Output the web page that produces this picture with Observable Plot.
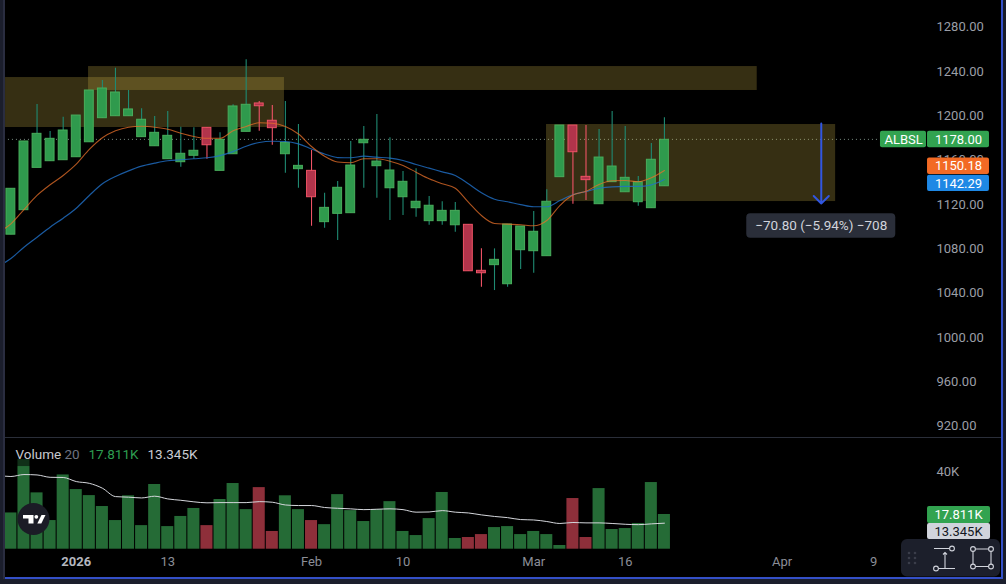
<!DOCTYPE html>
<html>
<head>
<meta charset="utf-8">
<script src="https://cdn.jsdelivr.net/npm/d3@7"></script>
<script src="https://cdn.jsdelivr.net/npm/@observablehq/plot@0.6"></script>
<style>
html,body{margin:0;padding:0;background:#000;width:1006px;height:584px;overflow:hidden}
#app{position:relative;width:1006px;height:584px;font-family:Roboto,sans-serif}
#app svg{display:block}
#vol{border-top:1px solid #2a2e39}
#chrome{position:absolute;left:0;top:0;pointer-events:none}
</style>
</head>
<body>
<div id="app"><div id="price"></div><div id="vol"></div></div>
<script>
// ---- daily candles (index 0 = late Dec 2025) ----
const opens = [1092,1114.1,1152.3,1158.3,1159.2,1161.9,1175.4,1197.1,1198.9,1198.9,1180,1171.8,1160.1,1157.4,1163.2,1188.4,1149.6,1164.6,1184.8,1210.4,1194.8,1164.6,1151.1,1149.6,1103.3,1110.8,1111.4,1174.5,1153.8,1133.9,1125.8,1115.9,1104.2,1104.2,1100.5,1100.9,1059.4,1064.5,1047.3,1078,1077.1,1072.6,1143.9,1190.5,1144.2,1119.5,1139.4,1130.3,1121.3,1115.9,1135.7];
const closes = [1133.4,1176.1,1183,1178.5,1186,1199.5,1222.1,1223.9,1220.3,1205,1195.7,1183.9,1181.2,1165,1167.7,1172.7,1177.6,1207.7,1209.2,1207.9,1188.1,1174.9,1154.1,1125.8,1116.2,1134.3,1154.4,1177.6,1158,1149.9,1139.7,1121.7,1118.1,1113.5,1113.5,1059,1057.2,1069.3,1101.2,1099.4,1094.6,1121.7,1190.5,1166.4,1141.2,1161.6,1153.5,1143.3,1139.4,1159.6,1177.6];
const highs = [1133.4,1176.1,1209.5,1185.1,1198,1199.5,1222.1,1231.1,1242.2,1222.1,1205.6,1198.6,1203.1,1189,1188.4,1188.4,1183.9,1209.2,1249.8,1212.2,1208.6,1212.2,1191.4,1168,1129.4,1140,1176.1,1189.6,1200.4,1179.4,1149,1151.4,1126.4,1121.7,1121,1100.9,1079.2,1079.2,1101.2,1099.4,1112.9,1132.5,1190.5,1190.5,1190.5,1186.9,1203.1,1189.6,1144.5,1174.3,1197.5];
const lows = [1092,1114.1,1152.3,1158.3,1159.2,1161.9,1175.4,1197.1,1198.9,1198.9,1180,1171.8,1160.1,1152.9,1160.1,1160.1,1149.6,1164.6,1184.8,1185.4,1172.7,1147.5,1133.9,1099.6,1097.8,1086.7,1111.4,1133.9,1124.9,1104.8,1109.3,1107.8,1100.5,1100.5,1094.2,1059,1044.6,1041.6,1044.6,1060.6,1057.2,1072.6,1143.9,1119.5,1122.8,1119.5,1139.4,1130.3,1117.7,1115.9,1135.7];
// moving averages start one session before the first candle
const maFast = [1094,1101.8,1114.7,1127.4,1137,1145.4,1155.6,1168.9,1179.4,1185.7,1189,1189.9,1189,1187.2,1183.6,1180.6,1179,1179,1185.7,1189.6,1193,1192.6,1189.6,1182.8,1171.6,1162.8,1157.6,1156.9,1160.5,1160.5,1158.3,1154.4,1148.4,1142.4,1137.9,1133.9,1121.3,1109.3,1102.1,1101.5,1100.9,1100,1104.8,1118.3,1127.8,1131.2,1137.3,1140.6,1140.9,1139.7,1143.3,1149.9];
const maSlow = [1063.3,1070.5,1080.7,1089.7,1098.8,1106.9,1115.9,1127.4,1137.9,1144.5,1149.6,1153.8,1156.5,1158.7,1159.6,1160.5,1161.4,1163.4,1167,1171.8,1175.2,1176.3,1176.1,1174,1169.3,1164.8,1161.6,1161.4,1162.8,1161.9,1161,1158.9,1155.3,1152,1148.7,1145.4,1137.9,1129.8,1124,1121.7,1119.2,1117.2,1117.2,1122.8,1128,1131,1133.9,1135.2,1135.5,1135.5,1137,1141.8];
const volumes = [18.6,46,28.9,14.7,38.1,30.6,27.5,21.9,14.7,27.4,12.1,33.2,11.6,16.8,20.9,12.1,25.5,33.7,20.3,31.6,9.1,27.4,20.3,14.7,12.6,28,19.8,14.2,20.3,24.4,9.1,7,15.7,29.1,5.5,6,7.5,11.1,11.6,7.5,9.1,7.5,1.9,26,6,31.1,10.1,10.6,13.2,34.2,17.811];
const volumeMA = [37.9,37.3,38.3,38.1,36.9,36.8,34.7,33.8,31.3,27,26.7,26.3,27.2,25.8,25.1,24.3,23.8,23.9,23.9,23.9,24.4,24.1,22.7,22.4,22.4,21.4,21,20.7,20.3,20.5,20.7,20.3,19,19.1,19.8,19,18.6,17.6,16.8,16.2,15.2,15,14.2,13.2,13.7,13.5,13.5,13.2,12.8,12.6,13,13.345];
// ---- axes ----
const priceTicks = [920,960,1000,1040,1080,1120,1160,1200,1240,1280];
const volumeTicks = [20,40];
const dateTicks = [12,23,30,40,47,59,66];
const dateLabels = ["13","Feb","10","Mar","16","Apr","9"];
const yearTick = [5];
const yearLabel = "2026";
// ---- drawn zones (session index, price) ----
const zoneStart = [-0.41,5.94,40.98];
const zoneEnd = [20.93,57.1,63.1];
const zoneTop = [1233.8,1243.7,1191.4];
const zoneBottom = [1188.7,1222.1,1121.9];
// ---- last values ----
const lastPrice = 1178;
const lastFast = 1150.18;
const lastSlow = 1142.29;
const lastVolume = 17.811;
const lastVolumeMA = 13.345;
const ticker = "ALBSL";
const measureText = "−70.80 (−5.94%) −708";

const candles = opens.map((o,i)=>({i,o,c:closes[i],h:highs[i],l:lows[i],up:closes[i]>=o,v:volumes[i]}));
const zones = zoneStart.map((s,k)=>({s,e:zoneEnd[k],t:zoneTop[k],b:zoneBottom[k]}));
const ma = a => a.map((v,k)=>({i:k-1,v}));

const xDomain = [-0.7957,70.74];
const font = "Roboto, sans-serif";
const up="#2f9a4d", upEdge="#49ad5c", upWick="#1f8a72", dn="#b1344b", dnEdge="#ef5366", volUp="#256b36", volDn="#8e2f3a";
const axisColor="#9b9ea6";

const pricePlot = Plot.plot({
  width:1006,height:437,margin:0,marginRight:71,
  style:{background:"#000",fontFamily:font,fontSize:"13px",color:axisColor},
  x:{domain:xDomain,axis:null},
  y:{domain:[909,1303.3],axis:null},
  marks:[
    Plot.axisY(priceTicks,{anchor:"right",tickSize:0,tickPadding:1,dy:1,tickFormat:d3.format(".2f"),label:null,color:axisColor}),
    Plot.ruleY([lastPrice],{x1:-0.8,x2:66.5,stroke:"#8ea596",strokeDasharray:"1 3",strokeOpacity:0.85}),
    Plot.rect(zones,{x1:"s",x2:"e",y1:"b",y2:"t",fill:"#d0b648",fillOpacity:0.26}),
    Plot.ruleX(candles,{x:"i",y1:"h",y2:"l",stroke:d=>d.up?upWick:dnEdge,strokeWidth:1.1}),
    Plot.rect(candles,{x1:d=>d.i-0.34,x2:d=>d.i+0.34,y1:d=>Math.max(d.o,d.c),y2:d=>Math.min(d.o,d.c),fill:d=>d.up?up:dn,stroke:d=>d.up?upEdge:dnEdge,strokeWidth:1}),
    Plot.line(ma(maSlow),{x:"i",y:"v",stroke:"#2071c8",strokeWidth:1.2,strokeOpacity:0.8,curve:"monotone-x"}),
    Plot.line(ma(maFast),{x:"i",y:"v",stroke:"#e8702a",strokeWidth:1.1,strokeOpacity:0.75,curve:"monotone-x"}),
    Plot.arrow([{y1:1192.3,y2:1120.1}],{x1:()=>62,x2:()=>62,y1:"y1",y2:"y2",stroke:"#3156e0",strokeWidth:2,headAngle:90,headLength:8}),
    Plot.rect([{}],{x1:()=>56.3,x2:()=>67.7,y1:()=>1110.8,y2:()=>1088.8,fill:"#2a2e39",r:4}),
    Plot.text([measureText],{x:()=>62,y:()=>1099.8,text:d=>d,fill:"#d1d4dc",fontSize:13.5}),
    Plot.rect([lastPrice],{x1:()=>66.53,x2:()=>70.05,y1:d=>d,y2:d=>d,insetTop:-8,insetBottom:-8.5,fill:"#32a350",r:2}),
    Plot.rect([lastPrice],{x1:()=>70.13,x2:()=>74.87,y1:d=>d,y2:d=>d,insetTop:-8,insetBottom:-8.5,fill:"#32a350",r:2}),
    Plot.text([ticker],{x:()=>68.3,y:()=>lastPrice,text:d=>d,fill:"#fff",fontSize:13,dy:0.5}),
    Plot.text([lastPrice],{x:()=>72.5,y:d=>d,text:d3.format(".2f"),fill:"#fff",fontSize:13,dy:0.5}),
    Plot.rect([lastFast],{x1:()=>70.13,x2:()=>74.87,y1:d=>d,y2:d=>d,insetTop:-12.3,insetBottom:-4.4,fill:"#f26a24",r:2}),
    Plot.text([lastFast],{x:()=>72.5,y:d=>d,text:d3.format(".2f"),fill:"#fff",fontSize:13,dy:-4}),
    Plot.rect([lastSlow],{x1:()=>70.13,x2:()=>74.87,y1:d=>d,y2:d=>d,insetTop:-3.7,insetBottom:-12.6,fill:"#1e88e5",r:2}),
    Plot.text([lastSlow],{x:()=>72.5,y:d=>d,text:d3.format(".2f"),fill:"#fff",fontSize:13,dy:4.5})
  ]
});
document.getElementById("price").append(pricePlot);

const fmtK = d => d3.format(".3f")(d)+"K";
const volPlot = Plot.plot({
  width:1006,height:146,margin:0,marginRight:71,marginBottom:35.3,
  style:{background:"#000",fontFamily:font,fontSize:"13px",color:axisColor},
  x:{domain:xDomain,axis:null},
  y:{domain:[0,56.8],axis:null},
  marks:[
    Plot.axisY(volumeTicks,{anchor:"right",tickSize:0,tickPadding:1,dy:1,tickFormat:d=>d+"K",label:null,color:axisColor}),
    Plot.rect(candles,{x1:d=>d.i-0.46,x2:d=>d.i+0.46,y1:()=>0,y2:"v",fill:d=>d.up?volUp:volDn}),
    Plot.line(ma(volumeMA),{x:"i",y:"v",stroke:"#d5d7dc",strokeWidth:1,curve:"monotone-x"}),
    Plot.rect([{}],{x1:()=>-0.4,x2:()=>15,y1:()=>42.4,y2:()=>56.8,fill:"#000",fillOpacity:0.55}),
    Plot.axisX(dateTicks,{anchor:"bottom",tickSize:0,tickPadding:8,tickFormat:d=>dateLabels[dateTicks.indexOf(d)],label:null,color:"#8b8e97"}),
    Plot.axisX(yearTick,{anchor:"bottom",tickSize:0,tickPadding:8,tickFormat:()=>yearLabel,label:null,color:"#b4b7bf",fontWeight:"bold"}),
    Plot.text(["Volume"],{frameAnchor:"top-left",dx:15,dy:11,text:d=>d,fill:"#c7c9cf",fontSize:13.5,textAnchor:"start"}),
    Plot.text(["20"],{frameAnchor:"top-left",dx:64,dy:11,text:d=>d,fill:"#6f7380",fontSize:13.5,textAnchor:"start"}),
    Plot.text([lastVolume],{frameAnchor:"top-left",dx:88,dy:11,text:fmtK,fill:"#2e9e50",fontSize:13.5,textAnchor:"start"}),
    Plot.text([lastVolumeMA],{frameAnchor:"top-left",dx:147,dy:11,text:fmtK,fill:"#c9ccd3",fontSize:13.5,textAnchor:"start"}),
    Plot.rect([lastVolume],{x1:()=>70.13,x2:()=>74.95,y1:d=>d,y2:d=>d,insetTop:-8,insetBottom:-9,fill:"#32a350",r:2}),
    Plot.text([lastVolume],{x:()=>72.5,y:d=>d,text:fmtK,fill:"#fff",fontSize:13,dy:0.5}),
    Plot.rect([lastVolumeMA],{x1:()=>70.13,x2:()=>74.95,y1:d=>d,y2:d=>d,insetTop:0.3,insetBottom:-16.3,fill:"#d1d4dc",r:2}),
    Plot.text([lastVolumeMA],{x:()=>72.5,y:d=>d,text:fmtK,fill:"#131722",fontSize:13,dy:9})
  ]
});
document.getElementById("vol").append(volPlot);

// window chrome: frame, logo, floating toolbar
const ns="http://www.w3.org/2000/svg";
const wrap=document.createElement("div");
wrap.innerHTML=`<svg id="chrome" xmlns="${ns}" width="1006" height="584" viewBox="0 0 1006 584">
<rect x="0" y="0" width="5" height="584" fill="#1b1e2c"/>
<rect x="3" y="0" width="2" height="584" fill="#2a2d40"/>
<rect x="1003" y="0" width="3" height="584" fill="#181b28"/>
<rect x="1001" y="0" width="2" height="579" fill="#3450c8"/>
<rect x="0" y="579" width="1006" height="5" fill="#1b1e2c"/>
<rect x="5" y="577" width="998" height="2" fill="#3450c8"/>
<circle cx="33.5" cy="519" r="16" fill="#1b1c26"/>
<path d="M23 515h10.5v8.5h-5v-5H23z" fill="#fff"/><circle cx="36.3" cy="516.8" r="1.9" fill="#fff"/>
<path d="M41.5 515h4l-4.2 8.5h-4z" fill="#fff"/>
<rect x="901" y="539" width="99" height="37.5" rx="6" fill="#1c1f2b"/>
<g fill="#3a3d4a"><circle cx="909" cy="553" r="1.3"/><circle cx="915" cy="553" r="1.3"/><circle cx="909" cy="558" r="1.3"/><circle cx="915" cy="558" r="1.3"/><circle cx="909" cy="563" r="1.3"/><circle cx="915" cy="563" r="1.3"/></g>
<g fill="none" stroke="#d1d4dc" stroke-width="1.1">
<path d="M934 548.5H949M938.5 568.5H955M945 552V568.5M943 554.5l2-2 2 2"/>
<circle cx="952" cy="548.5" r="2.4"/><circle cx="936" cy="568.5" r="2.4"/>
<path d="M975.5 549H988.5M975.5 566.5H988.5M973 551.5V564M991 551.5V564"/>
<circle cx="973" cy="549" r="2.4"/><circle cx="991" cy="549" r="2.4"/><circle cx="973" cy="566.5" r="2.4"/><circle cx="991" cy="566.5" r="2.4"/>
</g></svg>`;
document.getElementById("app").append(wrap.firstElementChild);
</script>
</body>
</html>
